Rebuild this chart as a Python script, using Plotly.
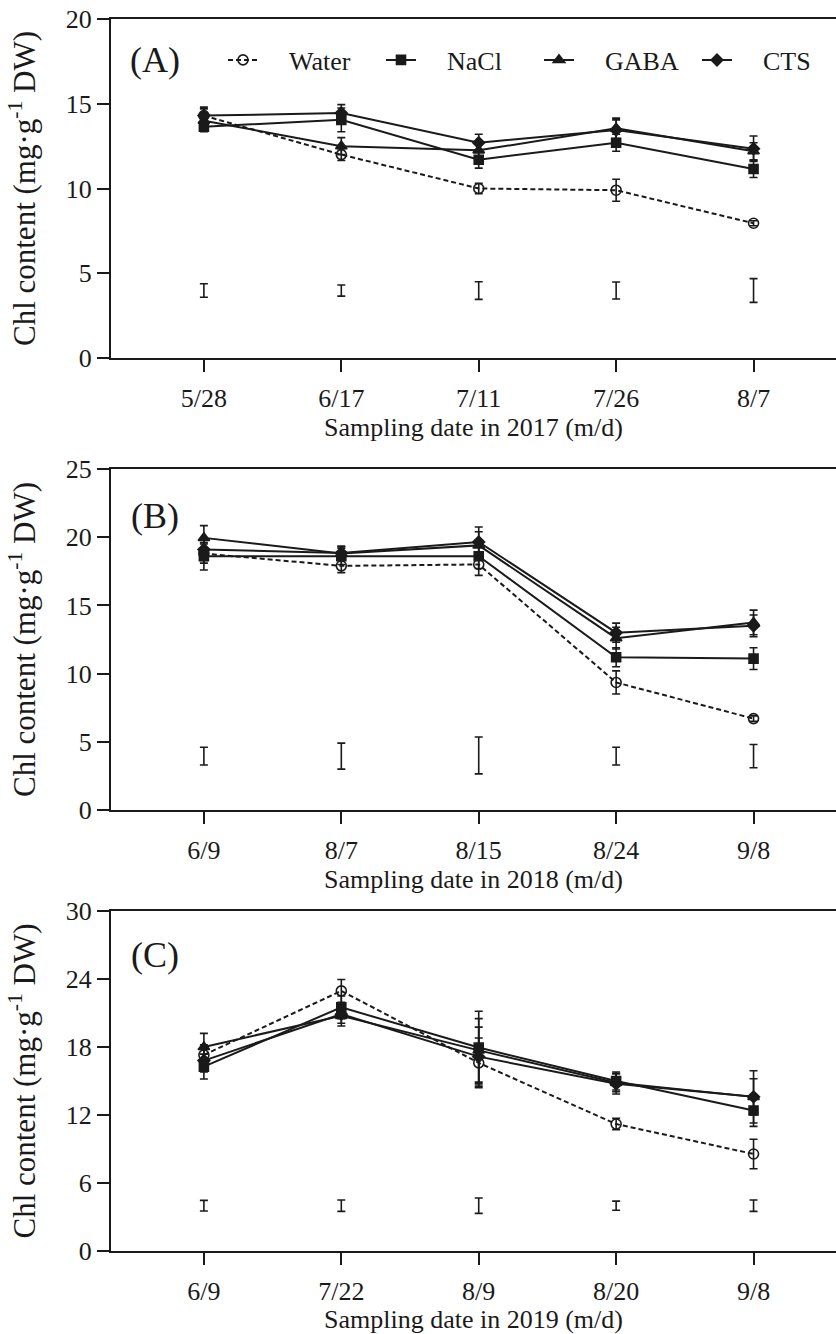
import plotly.graph_objects as go

# ---------------- data ----------------
dates_2017 = ["5/28", "6/17", "7/11", "7/26", "8/7"]
dates_2018 = ["6/9", "8/7", "8/15", "8/24", "9/8"]
dates_2019 = ["6/9", "7/22", "8/9", "8/20", "9/8"]

series_names = ["Water", "NaCl", "GABA", "CTS"]

water_2017 = [14.3, 12.0, 10.0, 9.9, 7.95]
nacl_2017 = [13.65, 14.05, 11.7, 12.7, 11.15]
gaba_2017 = [14.0, 12.5, 12.25, 13.55, 12.2]
cts_2017 = [14.3, 14.45, 12.7, 13.45, 12.35]
water_2017_err = [0.4, 0.35, 0.3, 0.65, 0.15]
nacl_2017_err = [0.3, 0.7, 0.5, 0.5, 0.5]
gaba_2017_err = [0.4, 0.5, 0.5, 0.6, 0.5]
cts_2017_err = [0.5, 0.5, 0.5, 0.6, 0.75]
lsd_mid_2017 = [3.98, 3.98, 3.98, 3.98, 3.98]
lsd_half_2017 = [0.4, 0.33, 0.52, 0.5, 0.7]

water_2018 = [18.8, 17.9, 18.0, 9.35, 6.7]
nacl_2018 = [18.6, 18.6, 18.6, 11.2, 11.1]
gaba_2018 = [19.95, 18.8, 19.4, 12.6, 13.75]
cts_2018 = [19.1, 18.85, 19.65, 13.0, 13.5]
water_2018_err = [0.7, 0.5, 0.8, 0.85, 0.2]
nacl_2018_err = [1.0, 0.6, 0.9, 0.7, 0.8]
gaba_2018_err = [0.9, 0.5, 1.0, 0.8, 0.9]
cts_2018_err = [0.8, 0.5, 1.1, 0.7, 0.8]
lsd_mid_2018 = [3.95, 3.95, 4.0, 3.95, 3.95]
lsd_half_2018 = [0.65, 0.95, 1.35, 0.65, 0.85]

water_2019 = [17.3, 22.95, 16.6, 11.2, 8.56]
nacl_2019 = [16.27, 21.5, 17.95, 15.0, 12.4]
gaba_2019 = [18.0, 20.75, 17.7, 14.85, 13.6]
cts_2019 = [16.8, 20.9, 17.15, 14.75, 13.6]
water_2019_err = [0.9, 1.0, 2.2, 0.5, 1.3]
nacl_2019_err = [1.1, 1.0, 3.2, 0.8, 1.4]
gaba_2019_err = [1.2, 0.9, 2.8, 0.8, 1.6]
cts_2019_err = [1.0, 0.8, 2.6, 0.9, 2.3]
lsd_mid_2019 = [4.0, 4.0, 4.0, 4.0, 4.0]
lsd_half_2019 = [0.47, 0.5, 0.68, 0.4, 0.5]

panel_labels = ["(A)", "(B)", "(C)"]
x_titles = ["Sampling date in 2017 (m/d)", "Sampling date in 2018 (m/d)",
            "Sampling date in 2019 (m/d)"]
y_title = "Chl content (mg·g<sup>-1</sup> DW)"
y_ranges = [[0, 20], [0, 25], [0, 30]]
y_dticks = [5, 5, 6]

panels = [
    (dates_2017, [water_2017, nacl_2017, gaba_2017, cts_2017],
     [water_2017_err, nacl_2017_err, gaba_2017_err, cts_2017_err],
     lsd_mid_2017, lsd_half_2017),
    (dates_2018, [water_2018, nacl_2018, gaba_2018, cts_2018],
     [water_2018_err, nacl_2018_err, gaba_2018_err, cts_2018_err],
     lsd_mid_2018, lsd_half_2018),
    (dates_2019, [water_2019, nacl_2019, gaba_2019, cts_2019],
     [water_2019_err, nacl_2019_err, gaba_2019_err, cts_2019_err],
     lsd_mid_2019, lsd_half_2019),
]

# ---------------- style ----------------
W, H = 836, 1334
FONT = "Liberation Serif"
INK = "#1a1a1a"
symbols = ["circle-open", "square", "triangle-up", "diamond"]
msizes = [10, 9, 10, 9]
dashes = ["5px,3px", "solid", "solid", "solid"]
legend_names = ["\u00a0\u00a0\u00a0\u00a0" + n for n in series_names]

# pixel layout of each panel (top, bottom)
px_boxes = [(19, 358), (469, 810), (911, 1251)]
x_left_px = 111

fig = go.Figure()

for p, (dates, vals, errs, lsd_mid, lsd_half) in enumerate(panels):
    xa = "x" if p == 0 else f"x{p+1}"
    ya = "y" if p == 0 else f"y{p+1}"
    for s in range(4):
        fig.add_trace(go.Scatter(
            x=dates, y=vals[s], name=legend_names[s], xaxis=xa, yaxis=ya,
            mode="lines+markers", showlegend=(p == 0), legendgroup=series_names[s],
            line=dict(color=INK, width=2, dash=dashes[s]),
            marker=dict(symbol=symbols[s], size=msizes[s], color=INK,
                        line=dict(color=INK, width=1.6)),
            error_y=dict(type="data", array=errs[s], visible=True,
                         color=INK, thickness=1.6, width=4),
        ))
    fig.add_trace(go.Scatter(
        x=dates, y=lsd_mid, xaxis=xa, yaxis=ya, mode="markers", showlegend=False,
        marker=dict(size=1, color="rgba(0,0,0,0)"),
        error_y=dict(type="data", array=lsd_half, visible=True,
                     color=INK, thickness=1.6, width=4),
        hoverinfo="skip",
    ))

layout = dict(
    width=W, height=H, margin=dict(l=0, r=0, t=0, b=0, autoexpand=False),
    paper_bgcolor="white", plot_bgcolor="white",
    font=dict(family=FONT, size=26, color=INK),
    legend=dict(orientation="h", x=223 / W, y=1 - 60 / H, xanchor="left",
                yanchor="middle", bgcolor="rgba(0,0,0,0)",
                font=dict(family=FONT, size=26, color=INK),
                entrywidthmode="pixels", entrywidth=113, borderwidth=0),
)

for p in range(3):
    top, bot = px_boxes[p]
    xkey = "xaxis" if p == 0 else f"xaxis{p+1}"
    ykey = "yaxis" if p == 0 else f"yaxis{p+1}"
    yref = "y" if p == 0 else f"y{p+1}"
    layout[xkey] = dict(
        domain=[x_left_px / W, 1.0], anchor=yref, type="category",
        range=[-0.676, 4.6], showline=True, linecolor=INK, linewidth=2,
        mirror=True, ticks="outside", ticklen=12, tickwidth=2, tickcolor=INK,
        showgrid=False, zeroline=False, automargin=False,
        tickfont=dict(family=FONT, size=26, color=INK), ticklabelstandoff=4,
        title=dict(text=x_titles[p], font=dict(family=FONT, size=26, color=INK),
                   standoff=6),
    )
    layout[ykey] = dict(
        domain=[1 - bot / H, 1 - top / H], anchor="x" if p == 0 else f"x{p+1}",
        range=y_ranges[p], dtick=y_dticks[p], tick0=0,
        showline=True, linecolor=INK, linewidth=2, mirror=False,
        ticks="outside", ticklen=12, tickwidth=2, tickcolor=INK,
        showgrid=False, zeroline=False, automargin=False,
        tickfont=dict(family=FONT, size=26, color=INK),
        title=dict(text=y_title, font=dict(family=FONT, size=31, color=INK),
                   standoff=21),
    )

fig.update_layout(**layout)

label_y_px = [60, 516, 955]
for p in range(3):
    fig.add_annotation(
        text=panel_labels[p], xref="paper", yref="paper",
        x=155 / W, y=1 - label_y_px[p] / H, xanchor="center", yanchor="middle",
        showarrow=False, font=dict(family=FONT, size=36, color=INK),
    )

fig.write_html("out.html")
